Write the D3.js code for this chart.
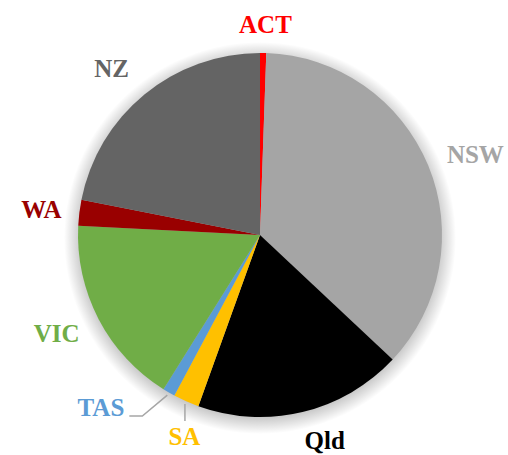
<!DOCTYPE html>
<html>
  <head>
    <meta charset="UTF-8" />
    <script src="https://d3js.org/d3.v7.min.js"></script>
  </head>
  <body style="margin: 0">
    <script>
      // Slice data, clockwise from 12 o'clock (percent)
      const regions = ["ACT", "NSW", "Qld", "SA", "TAS", "VIC", "WA", "NZ"];
      const shares = [0.55, 36.45, 18.5, 2.3, 1.1, 16.9, 2.3, 21.9];
      const colours = [
        "#ff0000",
        "#a5a5a5",
        "#000000",
        "#ffc000",
        "#5b9bd5",
        "#70ad47",
        "#990000",
        "#646464",
      ];

      const width = 508,
        height = 455,
        radius = 182,
        cx = 260,
        cy = 235;

      const data = regions.map((name, i) => ({
        name: name,
        value: shares[i],
        colour: colours[i],
      }));

      const svg = d3
        .select("body")
        .append("svg")
        .attr("width", width)
        .attr("height", height);

      // soft shadow under the pie, done with a radial gradient
      const grad = svg
        .append("defs")
        .append("radialGradient")
        .attr("id", "shade");
      grad.append("stop").attr("offset", 0.88).attr("stop-color", "#000").attr("stop-opacity", 0.3);
      grad.append("stop").attr("offset", 1).attr("stop-color", "#000").attr("stop-opacity", 0);

      svg
        .append("circle")
        .attr("cx", cx)
        .attr("cy", cy + 3)
        .attr("r", radius + 14)
        .attr("fill", "url(#shade)");

      const pie = d3
        .pie()
        .value((d) => d.value)
        .sort(null);
      const arc = d3.arc().innerRadius(0).outerRadius(radius);
      const arcs = pie(data);

      svg
        .selectAll("path.slice")
        .data(arcs)
        .enter()
        .append("path")
        .attr("class", "slice")
        .attr("transform", `translate(${cx},${cy})`)
        .attr("d", arc)
        .attr("fill", (d) => d.data.colour);

      const mid = (d) => (d.startAngle + d.endAngle) / 2;
      const polar = (a, r) => [cx + Math.sin(a) * r, cy - Math.cos(a) * r];

      // small manual tweaks to match the label placement
      const nudge = {
        ACT: [2, 1],
        NSW: [2, 0],
        Qld: [18, -1],
        VIC: [-3, 0],
        NZ: [-4, -3],
      };

      const leader = (pts) =>
        svg
          .append("path")
          .attr("d", d3.line()(pts))
          .attr("fill", "none")
          .attr("stroke", "#a6a6a6")
          .attr("stroke-width", 1.5);

      const labels = svg
        .selectAll("text")
        .data(arcs)
        .enter()
        .append("text")
        .style("font-family", "'Liberation Serif'")
        .style("font-weight", "bold")
        .style("font-size", "25px")
        .attr("fill", (d) => d.data.colour)
        .text((d) => d.data.name);

      labels.each(function (d) {
        const name = d.data.name;
        const a = mid(d);
        const el = d3.select(this);

        if (name === "SA") {
          // straight leader down from the slice
          const [sx, sy] = polar(a, radius + 3);
          leader([[sx, sy], [sx, sy + 17]]);
          el.attr("text-anchor", "middle")
            .attr("x", sx - 0.5)
            .attr("y", sy + 41);
        } else if (name === "TAS") {
          // bent leader out to the left
          const [sx, sy] = polar(a, radius + 3);
          const kx = sx - 25,
            ky = sy + 21;
          leader([[sx, sy], [kx, ky], [kx - 13, ky]]);
          el.attr("text-anchor", "end")
            .attr("x", kx - 18)
            .attr("y", ky);
        } else {
          const s = Math.sin(a);
          const anchor =
            Math.abs(s) < 0.3 ? "middle" : s > 0 ? "start" : "end";
          const [x] = polar(a, radius + 18);
          const [, y] = polar(a, radius + 30);
          const n = nudge[name] || [0, 0];
          el.attr("text-anchor", anchor)
            .attr("x", x + n[0])
            .attr("y", y + 8.5 + n[1]);
        }
      });
    </script>
  </body>
</html>
